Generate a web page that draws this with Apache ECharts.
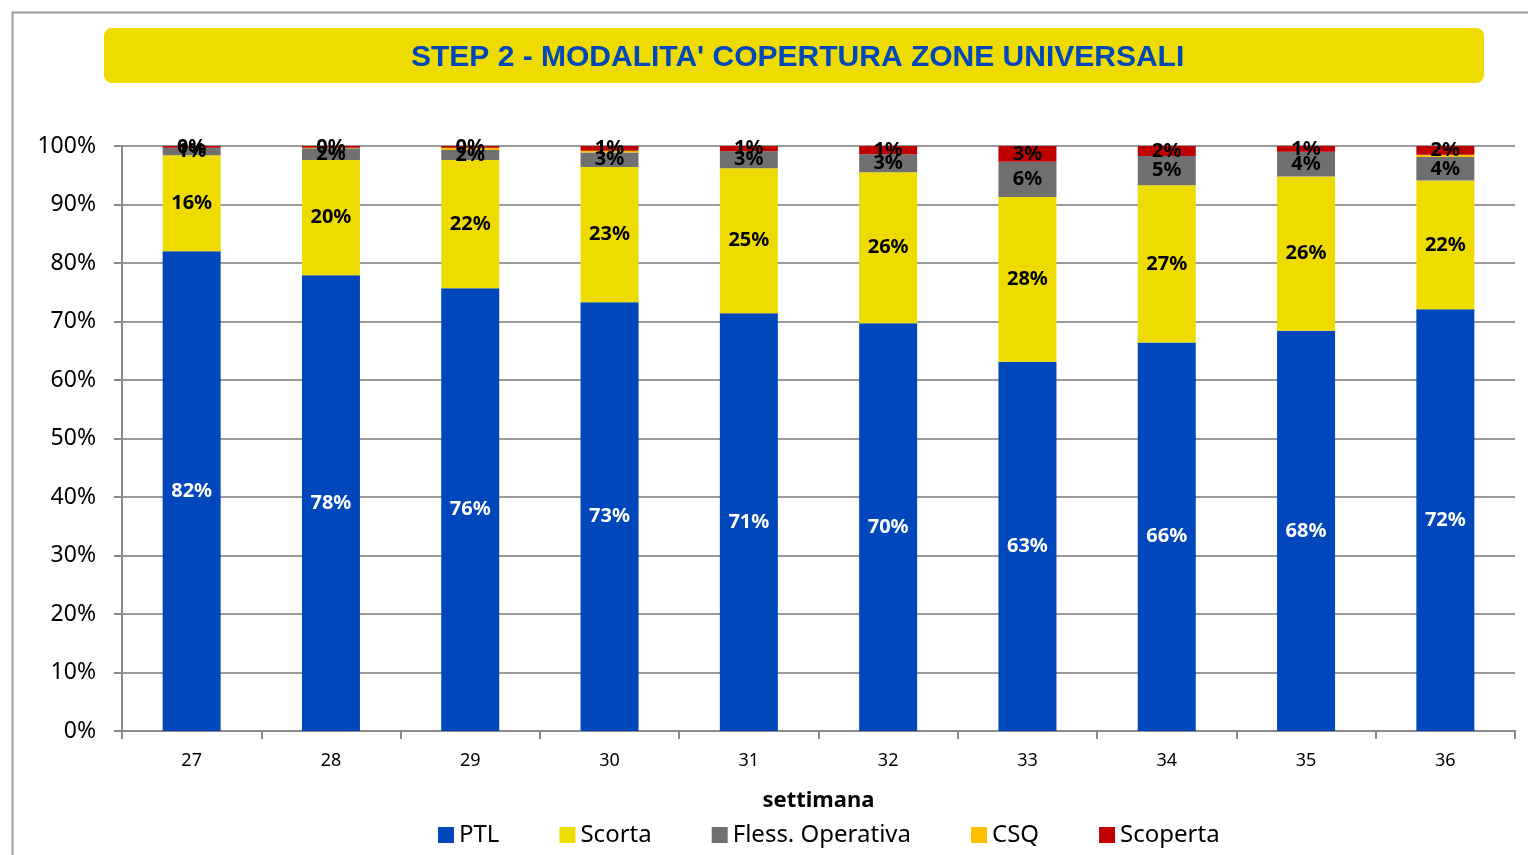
<!DOCTYPE html>
<html lang="it">
<head>
    <meta charset="UTF-8">
    <script src="https://cdn.jsdelivr.net/npm/echarts@6/dist/echarts.min.js"></script>
    <title>Step 2</title>
    <style>
        html, body { margin: 0; padding: 0; background: #fff; }
        #main { width: 1528px; height: 855px; }
    </style>
</head>
<body>
    <div id="main"></div>
    <script>
        // settimane
        var weeks = ['27', '28', '29', '30', '31', '32', '33', '34', '35', '36'];
        // quote percentuali per modalita'
        var ptl = [82.0, 77.9, 75.7, 73.3, 71.4, 69.7, 63.1, 66.4, 68.4, 72.1];
        var scorta = [16.4, 19.7, 21.9, 23.1, 24.8, 25.8, 28.2, 26.9, 26.4, 22.0];
        var fless = [1.3, 2.0, 1.7, 2.5, 2.9, 3.1, 6.0, 5.0, 4.2, 4.0];
        var csq = [0.0, 0.1, 0.4, 0.3, 0.0, 0.0, 0.0, 0.0, 0.0, 0.4];
        var scoperta = [0.3, 0.3, 0.3, 0.8, 0.9, 1.4, 2.7, 1.7, 1.0, 1.5];

        var font = 'Noto Sans';

        function pct(p) {
            return Math.round(p.value) + '%';
        }

        function bar(name, data, color, labelColor, showLabel) {
            return {
                name: name,
                type: 'bar',
                stack: 'tot',
                data: data,
                barWidth: 58,
                itemStyle: { color: color },
                label: {
                    show: showLabel,
                    position: 'inside',
                    formatter: pct,
                    color: labelColor,
                    fontFamily: font,
                    fontWeight: 'bold',
                    fontSize: 20
                }
            };
        }

        var myChart = echarts.init(document.getElementById('main'));
        var option = {
            backgroundColor: '#fff',
            animation: false,
            graphic: [
                {
                    type: 'rect',
                    left: 10, top: 10,
                    shape: { width: 1540, height: 880 },
                    style: { fill: 'none', stroke: '#9a9a9a', lineWidth: 2 },
                    z: -1
                },
                {
                    type: 'rect',
                    left: 104, top: 28,
                    shape: { width: 1380, height: 55, r: 8 },
                    style: { fill: '#EEDC00' },
                    z: -1
                }
            ],
            title: {
                text: "STEP 2 - MODALITA' COPERTURA ZONE UNIVERSALI",
                left: 406,
                top: 38,
                textStyle: {
                    color: '#0047BB',
                    fontFamily: 'Liberation Sans',
                    fontWeight: 'bold',
                    fontSize: 30
                }
            },
            legend: {
                data: ['PTL', 'Scorta', 'Fless. Operativa', 'CSQ', 'Scoperta'],
                top: 818,
                left: 433,
                itemWidth: 16,
                itemHeight: 16,
                itemGap: 60,
                icon: 'rect',
                textStyle: { fontFamily: font, fontSize: 24, color: '#000' }
            },
            grid: {
                left: 122,
                right: 13,
                top: 146,
                bottom: 124
            },
            xAxis: {
                type: 'category',
                data: weeks,
                name: 'settimana',
                nameLocation: 'middle',
                nameGap: 59,
                nameTextStyle: { fontFamily: font, fontWeight: 'bold', fontSize: 22, color: '#000' },
                axisLine: { lineStyle: { color: '#8a8a8a', width: 2 } },
                axisTick: { show: true, interval: 0, length: 8, lineStyle: { color: '#8a8a8a', width: 2 } },
                axisLabel: { fontFamily: font, fontSize: 18, color: '#000', margin: 21 }
            },
            yAxis: {
                type: 'value',
                min: 0,
                max: 100,
                interval: 10,
                axisLine: { show: true, lineStyle: { color: '#8a8a8a', width: 2 } },
                axisTick: { show: true, length: 8, lineStyle: { color: '#8a8a8a', width: 2 } },
                axisLabel: {
                    formatter: '{value}%',
                    fontFamily: font,
                    fontSize: 23,
                    color: '#000',
                    margin: 26
                },
                splitLine: { lineStyle: { color: '#9a9a9a', width: 2 } }
            },
            series: [
                bar('PTL', ptl, '#0047BB', '#fff', true),
                bar('Scorta', scorta, '#EEDC00', '#000', true),
                bar('Fless. Operativa', fless, '#707070', '#000', true),
                bar('CSQ', csq, '#FFC000', '#000', false),
                bar('Scoperta', scoperta, '#C00000', '#000', true)
            ]
        };
        myChart.setOption(option);
    </script>
</body>
</html>
